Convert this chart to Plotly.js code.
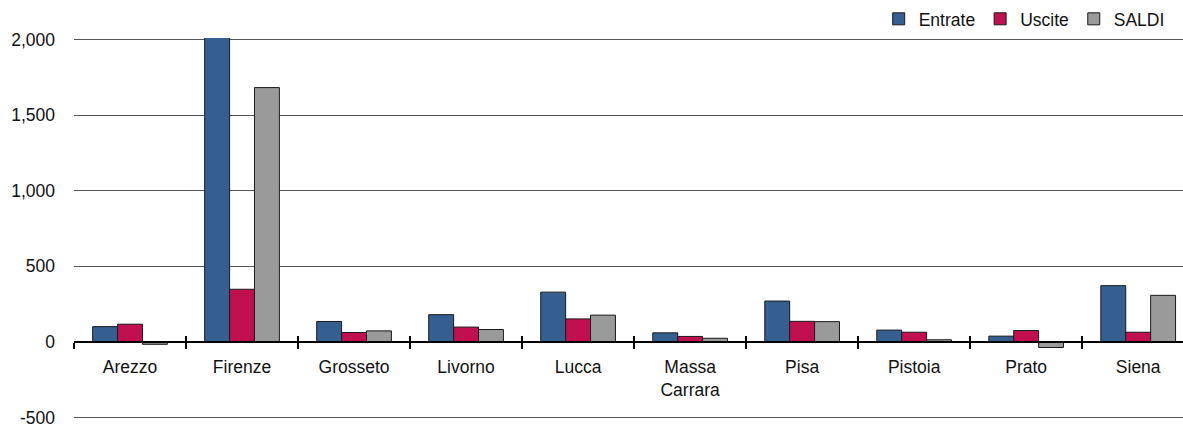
<!DOCTYPE html>
<html>
<head>
<meta charset="utf-8">
<script src="https://cdn.plot.ly/plotly-3.0.1.min.js"></script>
<style>html,body{margin:0;padding:0;background:#fff;}#chart{width:1183px;height:425px;}</style>
</head>
<body>
<div id="chart"></div>
<script>
const categories = ['Arezzo', 'Firenze', 'Grosseto', 'Livorno', 'Lucca', 'Massa<br>Carrara', 'Pisa', 'Pistoia', 'Prato', 'Siena'];
const entrate = [101, 2030, 135, 180, 329, 60, 270, 78, 38, 372];
const uscite  = [117, 348, 62, 98, 152, 36, 136, 64, 75, 64];
const saldi   = [-16, 1682, 73, 82, 177, 24, 134, 14, -37, 308];
const yTickVals = [-500, 0, 500, 1000, 1500, 2000];
const yTickText = ['-500', '0', '500', '1,000', '1,500', '2,000'];

const FONT = '"Liberation Sans", Arial, sans-serif';
const FS = 17.5;
const line = {color: '#1a1a1a', width: 1};

const traces = [
  {type: 'bar', name: 'Entrate', x: categories, y: entrate, marker: {color: '#355F91', line: line}},
  {type: 'bar', name: 'Uscite', x: categories, y: uscite, marker: {color: '#C0104F', line: line}},
  {type: 'bar', name: 'SALDI', x: categories, y: saldi, marker: {color: '#9A9A9A', line: line}},
  {type: 'scatter', x: [], y: [], xaxis: 'x2', showlegend: false, hoverinfo: 'skip'}
];

const xr = [-0.5, 9.4];
const yr = [-510, 2010];
const zeroPos = (0 - yr[0]) / (yr[1] - yr[0]);
const layout = {
  width: 1183, height: 425,
  margin: {l: 74, r: 0, t: 38, b: 6, pad: 0},
  paper_bgcolor: '#fff', plot_bgcolor: '#fff',
  font: {family: FONT, size: FS, color: '#111'},
  barmode: 'group', bargap: 0.333, bargroupgap: 0,
  showlegend: true,
  legend: {orientation: 'h', x: 0.988, xanchor: 'right', y: 1.05, yanchor: 'middle',
           font: {family: FONT, size: FS, color: '#111'}, traceorder: 'normal',
           itemwidth: 30, bgcolor: 'rgba(0,0,0,0)'},
  xaxis: {type: 'category', range: xr, anchor: 'free', position: zeroPos,
          showline: true, linecolor: '#000', linewidth: 2,
          tickson: 'boundaries', ticks: 'outside', ticklen: 6, tickwidth: 2, tickcolor: '#000',
          ticklabelstandoff: 9,
          showgrid: false, tickfont: {family: FONT, size: FS, color: '#111'}, fixedrange: true},
  xaxis2: {type: 'linear', range: xr, overlaying: 'x', anchor: 'free', position: zeroPos,
           tickvals: categories.map((_, i) => i - 0.5), ticks: 'inside', ticklen: 6, tickwidth: 2,
           tickcolor: '#000', showticklabels: false, showgrid: false, showline: false, zeroline: false},
  yaxis: {range: yr, tickvals: yTickVals, ticktext: yTickText,
          showgrid: true, gridcolor: '#555', gridwidth: 1,
          zeroline: true, zerolinecolor: '#000', zerolinewidth: 2,
          showline: false, ticks: '', ticklabelstandoff: 18, ticklabeloverflow: 'allow',
          tickfont: {family: FONT, size: FS, color: '#111'}}
};

Plotly.newPlot('chart', traces, layout, {displayModeBar: false, staticPlot: true});
</script>
</body>
</html>
